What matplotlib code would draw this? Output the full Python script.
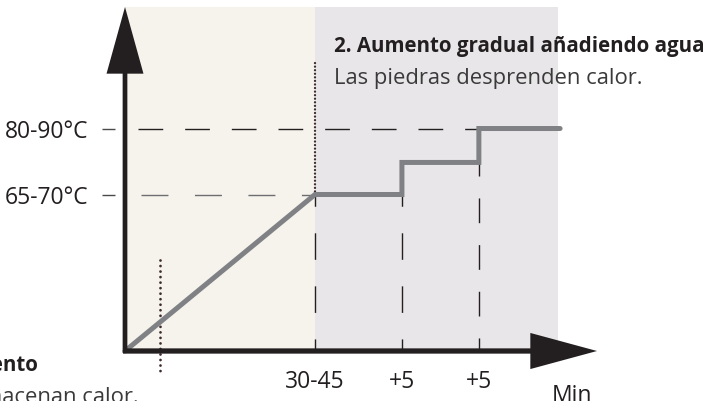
import matplotlib
matplotlib.use('Agg')
import matplotlib.pyplot as plt

# phase boundaries (min, schematic) and temperature reached (°C)
phase_t = [0, 40, 58.3, 74.5, 91.6]
phase_temp = [26, 67.5, 76, 85, 85]

t_ticks = [40, 58.3, 74.5]
t_labels = ['30-45', '+5', '+5']
temp_ticks = [67.5, 85]
temp_labels = ['65-70°C', '80-90°C']

title_1 = '1. Calentamiento'
text_1 = 'Las piedras almacenan calor.'
title_2 = '2. Aumento gradual añadiendo agua'
text_2 = 'Las piedras desprenden calor.'

BEIGE = '#f6f3ed'
GREY_BG = '#e8e6e8'
INK = '#231f20'
LINE = '#808184'
DOTS = '#3d2b2d'

W, H = 724, 401
PX_MIN = 4.75      # pixels per minute
PX_DEG = 3.771     # pixels per degree
X0, Y0 = 125, 351  # origin in pixels


def px(x, y):
    # pixel position (from top-left) -> data coordinates
    return (x - X0) / PX_MIN, phase_temp[0] + (Y0 - y) / PX_DEG


fig = plt.figure(figsize=(W / 100, H / 100), dpi=100)
ax = fig.add_axes([X0 / W, (H - Y0) / H, (558 - X0) / W, (Y0 - 7) / H])
ax.set_xlim(0, (558 - X0) / PX_MIN)
ax.set_ylim(phase_temp[0], px(0, 7)[1])
ax.patch.set_visible(False)
for s in ax.spines.values():
    s.set_visible(False)

# phase backgrounds
ax.axvspan(phase_t[0], phase_t[1], color=BEIGE, lw=0, zorder=0)
ax.axvspan(phase_t[1], ax.get_xlim()[1], color=GREY_BG, lw=0, zorder=0)

# reference levels
x_a, _ = px(138, 0)
ax.plot([x_a, t_ticks[2]], [temp_ticks[1]] * 2, color=INK, lw=1.0,
        linestyle=(0, (17.8, 15.8)), zorder=2)
x_b, _ = px(141, 0)
ax.plot([x_b, t_ticks[0]], [temp_ticks[0]] * 2, color='#6d6e71', lw=1.0,
        linestyle=(0, (19.4, 19.1)), zorder=2)

# drops from each step to the time axis
tops = [phase_temp[1]] + phase_temp[1:3]
for i, (t, top) in enumerate(zip(t_ticks, tops)):
    ls = (10.4, (19.1, 19.1)) if i < 2 else (8.4, (17.8, 15.8))
    ax.plot([t, t], [phase_temp[0], top], color=INK, lw=1.0, linestyle=ls,
            zorder=2)

# dotted markers
yd0, yd1 = px(0, 62)[1], temp_ticks[0]
ax.plot([t_ticks[0]] * 2, [yd1, yd0], color=DOTS, lw=1.7,
        linestyle=(0, (0.01, 1.5)), dash_capstyle='round', zorder=3)
xd, yd2 = px(160, 260)
_, yd3 = px(160, 373)
ax.plot([xd, xd], [yd2, yd3], color=DOTS, lw=2.0,
        linestyle=(0, (0.01, 1.98)), dash_capstyle='round', zorder=3,
        clip_on=False)

# temperature curve: ramp then steps
xs = [phase_t[0], phase_t[1]]
ys = [phase_temp[0], phase_temp[1]]
for i in range(2, len(phase_t)):
    xs += [phase_t[i], phase_t[i]]
    ys += [phase_temp[i - 1], phase_temp[i]]
ax.plot(xs, ys, color=LINE, lw=3.6, solid_capstyle='round',
        solid_joinstyle='miter', zorder=4, clip_on=False)

# axes as arrows
ax.annotate('', xy=px(X0, 7), xytext=px(X0, 353), annotation_clip=False,
            arrowprops=dict(arrowstyle='simple,head_length=4.8,head_width=2.66,tail_width=0.34',
                            mutation_scale=10, color=INK, lw=0,
                            shrinkA=0, shrinkB=0), zorder=5)
ax.annotate('', xy=px(597, Y0), xytext=px(123, Y0), annotation_clip=False,
            arrowprops=dict(arrowstyle='simple,head_length=4.8,head_width=2.6,tail_width=0.38',
                            mutation_scale=10, color=INK, lw=0,
                            shrinkA=0, shrinkB=0), zorder=5)

# ticks
label_font = dict(family='Open Sans', size=16.5, color=INK)
ax.spines['left'].set_position(('outward', 7.2))
ax.set_yticks(temp_ticks, temp_labels, **label_font)
ax.tick_params(axis='y', length=9.4, width=1.0, color='#4a4a4a', pad=10)
ax.set_xticks(t_ticks, t_labels, **label_font)
ax.tick_params(axis='x', length=0, pad=14)
ax.text(*px(552, 401.5), 'Min', ha='left', va='baseline', **label_font)

# phase captions
head = dict(family='Open Sans', weight='bold', size=14.8, color=INK,
            va='baseline', clip_on=False, zorder=6)
body = dict(family='Open Sans', weight='normal', size=15.8, color='#3a3a3a',
            va='baseline', clip_on=False, zorder=6)
ax.text(*px(334, 52), title_2, ha='left', **head)
ax.text(*px(334, 84), text_2, ha='left', **body)
ax.text(*px(38, 371), title_1, ha='right', **head)
ax.text(*px(139, 403), text_1, ha='right', **body)

fig.savefig('out.png', dpi=100)
